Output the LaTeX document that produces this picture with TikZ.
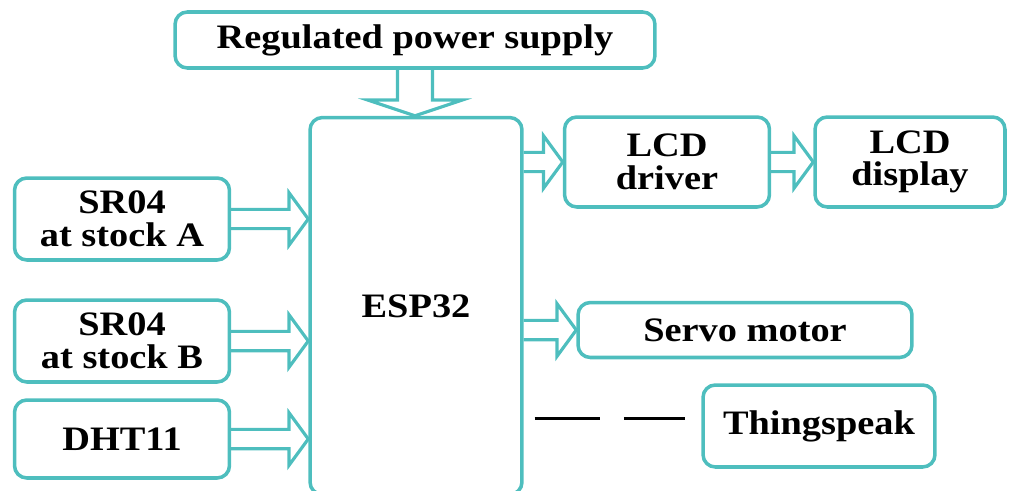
\documentclass[tikz,border=0pt]{standalone}
\usepackage{fontspec}
\setmainfont[FakeStretch=1.12]{Liberation Serif}
\usetikzlibrary{calc}
\definecolor{blockcol}{RGB}{78,190,190}
\tikzset{
  block/.style={draw=blockcol, line width=2pt, rounded corners=7pt, align=center,
    font=\bfseries\fontsize{19.5}{18.5}\selectfont, inner sep=2pt},
  flow/.style={draw=blockcol, line width=1.8pt, line join=miter},
}
% freccia a blocco orizzontale: #1 partenza, #2 punta
\newcommand{\rarrow}[2]{%
  \draw[flow] let \p1=(#1), \p2=(#2) in
    (\x1,\y1+5.5pt) -- (\x2-11pt,\y1+5.5pt) -- (\x2-11pt,\y1+15pt) -- (\x2,\y1)
    -- (\x2-11pt,\y1-15pt) -- (\x2-11pt,\y1-5.5pt) -- (\x1,\y1-5.5pt);}
% freccia a blocco verticale
\newcommand{\darrow}[2]{%
  \draw[flow] let \p1=(#1), \p2=(#2) in
    (\x1-10pt,\y1) -- (\x1-10pt,\y2+9pt) -- (\x1-27pt,\y2+9pt) -- (\x1,\y2)
    -- (\x1+27pt,\y2+9pt) -- (\x1+10pt,\y2+9pt) -- (\x1+10pt,\y1);}
\begin{document}
\begin{tikzpicture}[x=0.02cm, y=-0.02cm]

    \useasboundingbox (0,0) rectangle (1010,490);

    % Blocchi
    \node[block, minimum width=9.6cm, minimum height=1.12cm] (power) at (415,40) {Regulated power supply};
    \node[block, minimum width=4.24cm, minimum height=7.54cm] (esp) at (416,306) {ESP32};
    \node[block, minimum width=4.3cm, minimum height=1.64cm] (srA) at (122,219) {SR04\\at stock A};
    \node[block, minimum width=4.3cm, minimum height=1.64cm] (srB) at (122,341) {SR04\\at stock B};
    \node[block, minimum width=4.3cm, minimum height=1.56cm] (dht) at (122,439) {DHT11};
    \node[block, minimum width=4.1cm, minimum height=1.8cm] (lcdd) at (667,162) {LCD\\driver};
    \node[block, minimum width=3.8cm, minimum height=1.8cm] (lcdp) at (910,162) {LCD\\display};
    \node[block, minimum width=6.68cm, minimum height=1.1cm] (servo) at (745,330) {Servo motor};
    \node[block, minimum width=4.64cm, minimum height=1.64cm] (thing) at (819,426) {Thingspeak};

    % Frecce
    \darrow{power.south}{esp.north}
    \rarrow{srA.east}{esp.west}
    \rarrow{srB.east}{esp.west}
    \rarrow{dht.east}{esp.west}
    \rarrow{esp.east |- lcdd.west}{lcdd.west}
    \rarrow{lcdd.east}{lcdp.west}
    \rarrow{esp.east |- servo.west}{servo.west}

    % Collegamento tratteggiato
    \draw[black, line width=1.7pt, dash pattern=on 37pt off 13.7pt]
        ($(esp.east |- thing.west)+(11,-8)$) -- ($(thing.west)+(-16,-8)$);

\end{tikzpicture}
\end{document}
